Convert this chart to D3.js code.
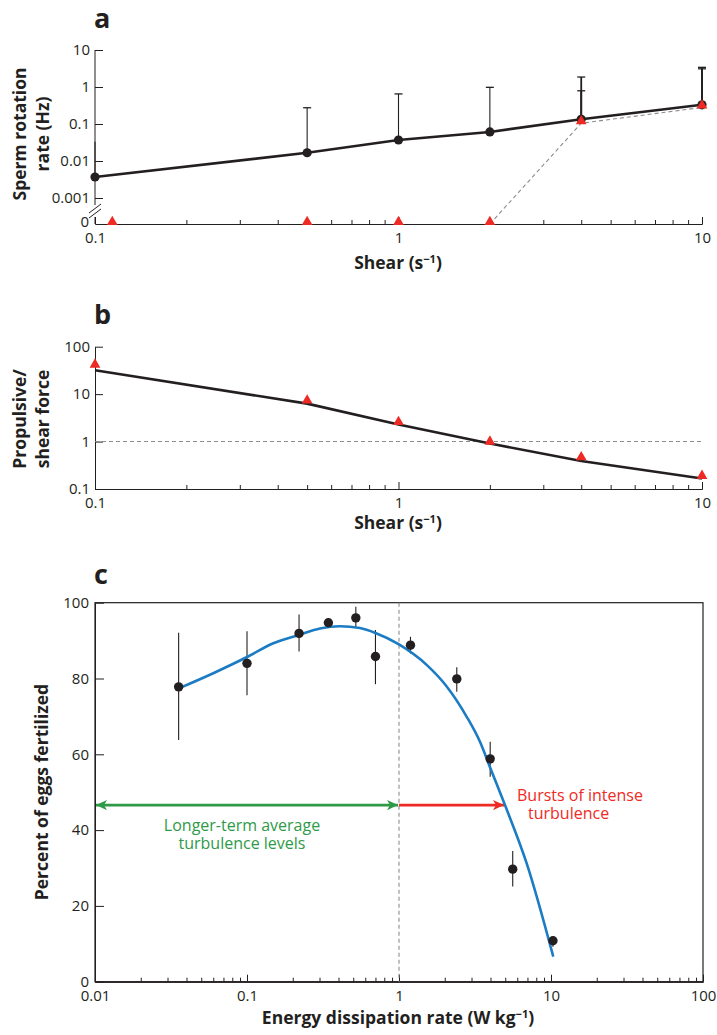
<!DOCTYPE html>
<html>
<head>
<meta charset="utf-8">
<script src="https://cdn.jsdelivr.net/npm/d3@7"></script>
<style>
  body { margin: 0; background: #fff; }
  text { font-family: "Open Sans", sans-serif; fill: #231f20; }
</style>
</head>
<body>
<script>
// ===== Data =====
// panel a: sperm rotation rate vs shear
const shearA = [0.1, 0.5, 1, 2, 4, 10];
const rotationRate = [0.0037, 0.0167, 0.037, 0.061, 0.134, 0.33];
const rotationErrHi = [0.033, 0.275, 0.65, 0.98, 1.86, 3.4];
const rotationErrHi2 = [null, null, null, null, 0.79, 3.1];
const shearTriA = [0.114, 0.5, 1, 2, 4, 10];
const triRateA = [0, 0, 0, 0, 0.105, 0.28]; // 0 = drawn on the zero line
const yTicksA = [0.001, 0.01, 0.1, 1, 10];

// panel b: propulsive / shear force
const shearB = [0.1, 0.5, 1, 2, 4, 10];
const forceRatio = [42, 7.4, 2.6, 1.0, 0.47, 0.19];
const forceFit = [32, 6.3, 2.3, 0.91, 0.39, 0.166];
const yTicksB = [0.1, 1, 10, 100];

// panel c: fertilization vs energy dissipation
const energyRate = [0.0355, 0.1, 0.22, 0.343, 0.52, 0.70, 1.19, 2.4, 3.98, 5.6, 10.3];
const fertilized = [77.8, 84.0, 91.9, 94.7, 96.0, 85.8, 88.8, 79.9, 58.8, 29.7, 10.8];
const fertErrLo = [63.8, 75.6, 87.1, null, 93.5, 78.5, 86.6, 76.5, 54.1, 25.1, 9.2];
const fertErrHi = [92.1, 92.5, 96.9, null, 98.9, 92.8, 91.0, 83.0, 63.3, 34.5, 11.9];
const fitEnergy = [0.0356, 0.060, 0.1016, 0.149, 0.22, 0.302, 0.409, 0.553, 0.70, 1.0, 1.52, 2.06, 2.79, 3.41, 4.03, 4.98, 6.92, 10.35];
const fitPercent = [77.4, 81.4, 85.8, 89.3, 91.5, 93.2, 93.8, 93.3, 92.0, 89.0, 83.6, 77.9, 69.9, 63.3, 55.9, 46.6, 31.2, 6.6];
const xTicksC = [0.01, 0.1, 1, 10, 100];
const yTicksC = [0, 20, 40, 60, 80, 100];
const arrowLevel = 46.6;
const greenRange = [0.01, 1];
const redRange = [1, 4.98];

// ===== SVG =====
const svg = d3.select("body").append("svg")
  .attr("width", 717)
  .attr("height", 1035);

const INK = "#231f20";
const RED = "#ee2a24";
const GREEN = "#2e9a47";
const BLUE = "#1b7cc4";
const fmt = d3.format("~g");
const TICK_FS = 15;
const TITLE_FS = 17.5;

// log x axis with minor + major ticks pointing inward
function logXAxis(g, scale, majors, y, pad) {
  const minors = scale.ticks().filter(d => !majors.some(m => Math.abs(m - d) < 1e-9));
  g.append("g")
    .attr("transform", `translate(0,${y})`)
    .call(d3.axisBottom(scale).tickValues(minors).tickSize(-4).tickSizeOuter(0).tickFormat(""));
  g.append("g")
    .attr("transform", `translate(0,${y})`)
    .call(d3.axisBottom(scale).tickValues(majors).tickSize(-7).tickSizeOuter(0).tickPadding(pad).tickFormat(fmt));
}

function styleAxes(g) {
  g.selectAll(".domain, .tick line").attr("stroke", INK).attr("stroke-width", 1);
  g.selectAll(".tick text").attr("font-size", TICK_FS).attr("fill", INK).style("font-family", "'Open Sans', sans-serif");
}

function unitTitle(g, x, y, main, unit) {
  const t = g.append("text")
    .attr("x", x).attr("y", y)
    .attr("text-anchor", "middle")
    .attr("font-size", TITLE_FS)
    .attr("font-weight", "bold");
  t.append("tspan").text(main + " (" + unit);
  t.append("tspan").attr("dy", -6.5).attr("font-size", 11).text("−1");
  t.append("tspan").attr("dy", 6.5).text(")");
}

function yTitle(g, lines, cx, cy) {
  lines.forEach((s, i) => {
    g.append("text")
      .attr("transform", `translate(${cx[i]},${cy}) rotate(-90)`)
      .attr("text-anchor", "middle")
      .attr("dy", "0.35em")
      .attr("font-size", TITLE_FS)
      .attr("font-weight", "bold")
      .text(s);
  });
}

function panelLabel(x, y, s) {
  svg.append("text")
    .attr("x", x).attr("y", y)
    .attr("font-size", 27)
    .attr("font-weight", "bold")
    .text(s);
}

const tri = d3.symbol().type(d3.symbolTriangle).size(50);

// ===== Panel a =====
const gA = svg.append("g");
const xA = d3.scaleLog().domain([0.1, 10]).range([95, 702]);
const yA = d3.scaleLog().domain([0.001, 10]).range([198, 50]);
const zeroA = 224;
const yAv = v => (v === 0 ? zeroA : yA(v));

logXAxis(gA, xA, [0.1, 1, 10], zeroA, 8);
const yAxA = gA.append("g")
  .attr("transform", "translate(95,0)")
  .call(d3.axisLeft(yA).tickValues(yTicksA).tickSize(-8).tickPadding(5).tickFormat(fmt));
yAxA.select(".domain").remove();
// zero tick
gA.append("text").attr("x", 89).attr("y", zeroA - 2).attr("dy", "0.32em")
  .attr("text-anchor", "end").attr("font-size", TICK_FS).text("0");
// broken y axis
gA.append("line").attr("x1", 95).attr("x2", 95).attr("y1", yA(10)).attr("y2", 205).attr("stroke", INK);
gA.append("line").attr("x1", 95).attr("x2", 95).attr("y1", 217).attr("y2", zeroA).attr("stroke", INK);
[208, 213].forEach(by => {
  gA.append("line").attr("x1", 89).attr("y1", by + 5).attr("x2", 101).attr("y2", by - 4)
    .attr("stroke", INK).attr("stroke-width", 1);
});
styleAxes(gA);

// dashed triangle trend (from shear 2 onward)
const dashIdx = [3, 4, 5];
gA.append("path")
  .attr("d", d3.line().x(i => xA(shearTriA[i])).y(i => yAv(triRateA[i]))(dashIdx))
  .attr("fill", "none").attr("stroke", "#8c8c8c").attr("stroke-width", 1.1).attr("stroke-dasharray", "4,3");

// error bars (upper)
shearA.forEach((s, i) => {
  [rotationErrHi[i], rotationErrHi2[i]].forEach(hi => {
    if (hi == null) return;
    const thick = rotationErrHi2[i] != null ? 1.8 : 1.1;
    gA.append("line").attr("x1", xA(s)).attr("x2", xA(s)).attr("y1", yA(rotationRate[i])).attr("y2", yA(hi))
      .attr("stroke", INK).attr("stroke-width", thick);
    if (i > 0) {
      gA.append("line").attr("x1", xA(s) - 4).attr("x2", xA(s) + 4).attr("y1", yA(hi)).attr("y2", yA(hi))
        .attr("stroke", INK).attr("stroke-width", 1.3);
    }
  });
});

gA.append("path")
  .attr("d", d3.line().x((d, i) => xA(shearA[i])).y(d => yA(d))(rotationRate))
  .attr("fill", "none").attr("stroke", INK).attr("stroke-width", 2.6);

gA.selectAll(".dotA").data(rotationRate).enter().append("circle")
  .attr("cx", (d, i) => xA(shearA[i])).attr("cy", d => yA(d)).attr("r", 4.6).attr("fill", INK);

gA.selectAll(".triA").data(triRateA).enter().append("path")
  .attr("d", tri)
  .attr("transform", (d, i) => `translate(${xA(shearTriA[i])},${yAv(d) - 2})`)
  .attr("fill", RED);

unitTitle(gA, 398, 269, "Shear", "s");
yTitle(gA, ["Sperm rotation", "rate (Hz)"], [20, 43], 134);
panelLabel(94, 28, "a");

// ===== Panel b =====
const gB = svg.append("g");
const xB = d3.scaleLog().domain([0.1, 10]).range([95, 702]);
const yB = d3.scaleLog().domain([0.1, 100]).range([489, 346.7]);

logXAxis(gB, xB, [0.1, 1, 10], yB(0.1), 8);
gB.append("g")
  .attr("transform", "translate(95,0)")
  .call(d3.axisLeft(yB).tickValues(yTicksB).tickSize(-8).tickSizeOuter(0).tickPadding(5).tickFormat(fmt));
styleAxes(gB);

gB.append("line")
  .attr("x1", xB(0.1)).attr("x2", xB(10)).attr("y1", yB(1)).attr("y2", yB(1))
  .attr("stroke", "#8c8c8c").attr("stroke-width", 1.1).attr("stroke-dasharray", "4,3");

gB.append("path")
  .attr("d", d3.line().x((d, i) => xB(shearB[i])).y(d => yB(d))(forceFit))
  .attr("fill", "none").attr("stroke", INK).attr("stroke-width", 2.6);

gB.selectAll(".triB").data(forceRatio).enter().append("path")
  .attr("d", tri)
  .attr("transform", (d, i) => `translate(${xB(shearB[i])},${yB(d)})`)
  .attr("fill", RED);

unitTitle(gB, 398, 529, "Shear", "s");
yTitle(gB, ["Propulsive/", "shear force"], [20, 43], 419);
panelLabel(94, 324, "b");

// ===== Panel c =====
const gC = svg.append("g");
const xC = d3.scaleLog().domain([0.01, 100]).range([95, 703]);
const yC = d3.scaleLinear().domain([0, 100]).range([981.7, 602.7]);

gC.append("rect")
  .attr("x", xC(0.01)).attr("y", yC(100))
  .attr("width", xC(100) - xC(0.01)).attr("height", yC(0) - yC(100))
  .attr("fill", "none").attr("stroke", INK).attr("stroke-width", 1.2);
logXAxis(gC, xC, xTicksC, yC(0), 9);
gC.append("g")
  .attr("transform", "translate(95,0)")
  .call(d3.axisLeft(yC).tickValues(yTicksC).tickSize(-9).tickSizeOuter(0).tickPadding(6));
styleAxes(gC);

// vertical dashed line at 1 W/kg
gC.append("line")
  .attr("x1", xC(1)).attr("x2", xC(1)).attr("y1", yC(100)).attr("y2", yC(0))
  .attr("stroke", "#8c8c8c").attr("stroke-width", 1.1).attr("stroke-dasharray", "4,3");

// arrows
const defs = svg.append("defs");
[["headG", GREEN], ["headR", RED]].forEach(([id, col]) => {
  defs.append("marker")
    .attr("id", id)
    .attr("markerUnits", "userSpaceOnUse")
    .attr("viewBox", "-11 -6 12 12")
    .attr("refX", 0).attr("refY", 0)
    .attr("markerWidth", 12).attr("markerHeight", 12)
    .attr("orient", "auto-start-reverse")
    .append("path")
    .attr("d", "M0,0 L-11,-5.2 L-8,0 L-11,5.2 Z")
    .attr("fill", col);
});
gC.append("line")
  .attr("x1", xC(greenRange[0]) + 1).attr("x2", xC(greenRange[1]) - 1)
  .attr("y1", yC(arrowLevel)).attr("y2", yC(arrowLevel))
  .attr("stroke", GREEN).attr("stroke-width", 2.6)
  .attr("marker-start", "url(#headG)").attr("marker-end", "url(#headG)");
gC.append("line")
  .attr("x1", xC(redRange[0])).attr("x2", xC(redRange[1]) - 1)
  .attr("y1", yC(arrowLevel)).attr("y2", yC(arrowLevel))
  .attr("stroke", RED).attr("stroke-width", 2.6)
  .attr("marker-end", "url(#headR)");

// error bars
energyRate.forEach((e, i) => {
  if (fertErrLo[i] == null) return;
  gC.append("line")
    .attr("x1", xC(e)).attr("x2", xC(e)).attr("y1", yC(fertErrLo[i])).attr("y2", yC(fertErrHi[i]))
    .attr("stroke", INK).attr("stroke-width", 1.1);
});

gC.append("path")
  .attr("d", d3.line().x((d, i) => xC(fitEnergy[i])).y(d => yC(d)).curve(d3.curveMonotoneX)(fitPercent))
  .attr("fill", "none").attr("stroke", BLUE).attr("stroke-width", 2.6);

gC.selectAll(".dotC").data(fertilized).enter().append("circle")
  .attr("cx", (d, i) => xC(energyRate[i])).attr("cy", d => yC(d)).attr("r", 4.7).attr("fill", INK);

// annotations
const noteG = gC.append("text").attr("text-anchor", "middle").attr("font-size", 16).style("fill", GREEN);
noteG.append("tspan").attr("x", 242).attr("y", 831).text("Longer-term average");
noteG.append("tspan").attr("x", 242).attr("y", 849).text("turbulence levels");
const noteR = gC.append("text").attr("font-size", 16).style("fill", RED);
noteR.append("tspan").attr("x", 517).attr("y", 801).text("Bursts of intense");
noteR.append("tspan").attr("x", 528).attr("y", 819).text("turbulence");

unitTitle(gC, 398, 1024, "Energy dissipation rate", "W kg");
yTitle(gC, ["Percent of eggs fertilized"], [42], 792);
panelLabel(94, 584, "c");
</script>
</body>
</html>
